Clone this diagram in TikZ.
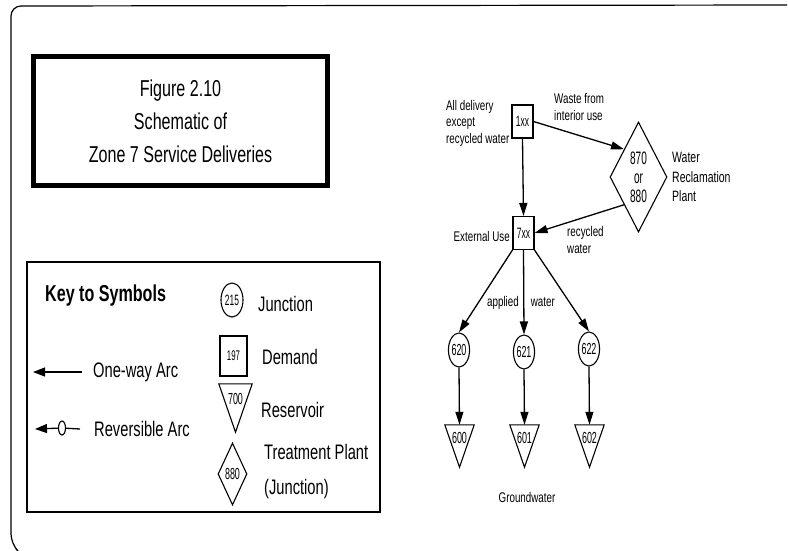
\documentclass[tikz,border=0pt]{standalone}
\usepackage{fontspec}
\setmainfont[FakeStretch=0.7]{Liberation Sans}
\newfontfamily\numfont[FakeStretch=0.56]{Liberation Sans}
\usetikzlibrary{shapes.geometric,arrows.meta}
\begin{document}
\begin{tikzpicture}[x=1pt,y=-1pt,
  arr/.style={line width=1.3pt,-{Triangle[length=13pt,width=8pt]}},
  keyarr/.style={line width=1.3pt,-{Triangle[length=12pt,width=9pt]}},
  shp/.style={line width=1.1pt},
  jun/.style={ellipse,draw,line width=1.1pt,inner sep=0pt,minimum width=20pt,minimum height=34pt,font=\numfont\fontsize{16}{16}\selectfont},
  dem/.style={rectangle,draw,line width=1.1pt,inner sep=0pt,minimum width=21pt,minimum height=33pt,font=\numfont\fontsize{15}{15}\selectfont},
  res/.style={rectangle,inner sep=0pt,minimum width=29pt,text height=18pt,text depth=24pt,font=\numfont\fontsize{16}{16}\selectfont},
  plant/.style={diamond,draw,line width=1.1pt,inner sep=0pt,aspect=0.5},
  lbl/.style={inner sep=0pt,align=left,font=\fontsize{14}{16.5}\selectfont},
  keylbl/.style={inner sep=0pt,align=left,font=\fontsize{21}{21}\selectfont,anchor=west}]
\useasboundingbox (0,0) rectangle (788,550);
% outer border
\draw[line width=1.2pt,rounded corners=10pt] (16,549) -- (11,544) -- (11,6) -- (787,5);
% title
\node[draw,line width=5pt,minimum width=294pt,minimum height=129pt,align=center,
  font=\fontsize{23}{33}\selectfont] (title) at (180.5,121)
  {Figure 2.10\\Schematic of\\Zone 7 Service Deliveries};
% key box
\node[draw,line width=1.2pt,minimum width=353pt,minimum height=250pt] (key) at (203.5,387) {};
\node[inner sep=0pt,anchor=west,font=\bfseries\fontsize{23}{23}\selectfont] (keytitle) at (45,296) {Key to Symbols};
\node[jun,minimum width=22pt,font=\numfont\fontsize{15}{15}\selectfont] (kj) at (232,300) {215};
\node[keylbl] (kjl) at (258,304) {Junction};
\node[dem,minimum width=27pt,minimum height=40pt,font=\numfont\fontsize{14}{14}\selectfont] (kd) at (233.5,356) {197};
\node[keylbl] (kdl) at (262,357) {Demand};
\node[res,minimum width=33pt,text height=20pt,text depth=28pt,font=\numfont\fontsize{16}{16}\selectfont] (kr) at (235.5,408) {700};
\draw[shp] (kr.north west) -- (kr.north east) -- (kr.south) -- cycle;
\node[keylbl] (krl) at (261,410) {Reservoir};
\node[plant,minimum width=29pt,minimum height=62pt,font=\numfont\fontsize{16}{16}\selectfont] (kp) at (232.5,474) {880};
\node[keylbl,font=\fontsize{21}{35}\selectfont] (kpl) at (264,472) {Treatment Plant\\(Junction)};
% arcs
\coordinate (oa1) at (82,372);
\coordinate (oa2) at (33,372);
\draw[keyarr] (oa1) -- (oa2);
\node[keylbl] (oal) at (93,372) {One-way Arc};
\coordinate (ra1) at (80,429);
\coordinate (ra2) at (35,429);
\node[ellipse,draw,line width=1.1pt,inner sep=0pt,minimum width=7pt,minimum height=14pt] (rc) at (62,428) {};
\draw[line width=1.3pt] (ra1) -- (rc);
\draw[keyarr] (rc) -- (ra2);
\node[keylbl] (ral) at (94,429) {Reversible Arc};
% network
\node[dem] (b1) at (522.5,121.5) {1xx};
\node[dem] (b7) at (523.5,233) {7xx};
\node[plant,minimum width=57pt,minimum height=110pt,align=center,font=\numfont\fontsize{18}{19}\selectfont] (p) at (638.5,177) {870\\or\\880};
\node[jun] (j620) at (459,350) {620};
\node[jun] (j621) at (524,352) {621};
\node[jun] (j622) at (589,349) {622};
\node[res] (t600) at (459.5,446) {600};
\node[res] (t601) at (524.5,446) {601};
\node[res] (t602) at (589.5,446) {602};
\foreach \t in {t600,t601,t602}
  \draw[shp] (\t.north west) -- (\t.north east) -- (\t.south) -- cycle;
\draw[arr] (b1.south) -- (b7.north);
\draw[arr] (b1.east) -- (p.north west);
\draw[arr] (p.south west) -- (b7.east);
\draw[arr] (b7.south west) -- (j620.north);
\draw[arr] (b7.south) -- (j621.north);
\draw[arr] (b7.south east) -- (j622.north);
\draw[arr] (j620.south) -- (t600.north);
\draw[arr] (j621.south) -- (t601.north);
\draw[arr] (j622.south) -- (t602.north);
% labels
\node[lbl,anchor=west] (l1) at (446,123) {All delivery\\except\\recycled water};
\node[lbl,anchor=west] (l2) at (554,107) {Waste from\\interior use};
\node[lbl,anchor=west,font=\fontsize{15}{19.5}\selectfont] (l3) at (672,177) {Water\\Reclamation\\Plant};
\node[lbl,anchor=east] (l4) at (510,236) {External Use};
\node[lbl,anchor=west] (l5) at (567,240) {recycled\\water};
\node[lbl] (l6) at (521,303) {applied\hspace{12pt}water};
\node[lbl] (l7) at (527,497) {Groundwater};
\end{tikzpicture}
\end{document}
